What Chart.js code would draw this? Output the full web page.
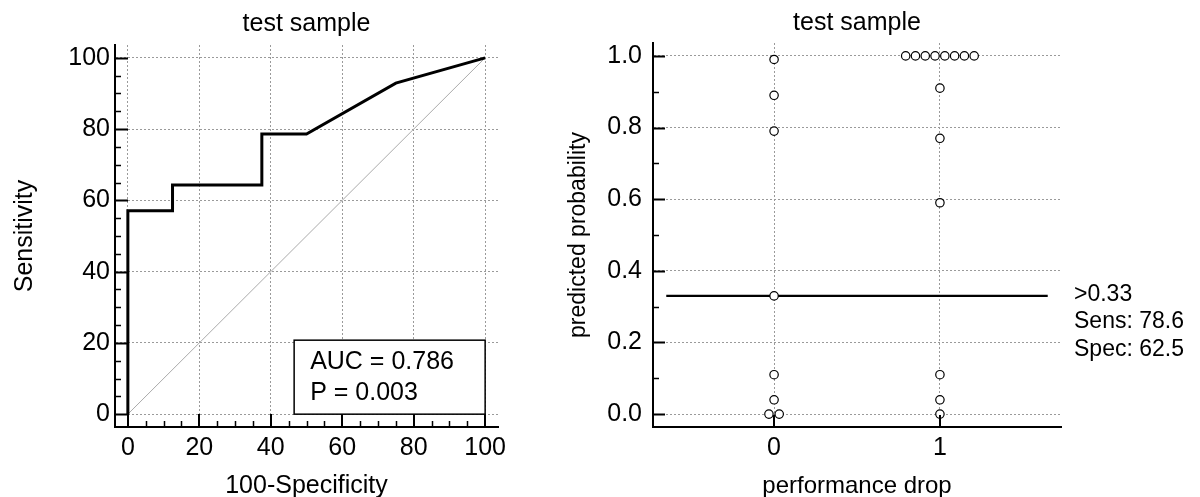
<!DOCTYPE html>
<html>
<head>
<meta charset="utf-8">
<script src="https://cdn.jsdelivr.net/npm/chart.js@4.4.1/dist/chart.umd.min.js"></script>
<style>
  html, body { margin: 0; padding: 0; background: #fff; overflow: hidden; }
  #rocChart { position: absolute; left: 0; top: 0; }
  #dotChart { position: absolute; left: 560px; top: 0; }
</style>
</head>
<body>
<canvas id="rocChart" width="560" height="497"></canvas>
<canvas id="dotChart" width="640" height="497"></canvas>
<script>
// ROC curve (left)
const rocX = [0, 0, 12.5, 12.5, 37.5, 37.5, 50, 75, 100];
const rocY = [0, 57.1, 57.1, 64.3, 64.3, 78.6, 78.6, 92.9, 100];
const diagX = [0, 100];
const diagY = [0, 100];
const rocTicks = [0, 20, 40, 60, 80, 100];
const aucLines = ['AUC = 0.786', 'P = 0.003'];

// dot plot (right)
const groups = [0, 1];
const group0 = [0.99, 0.89, 0.79, 0.33, 0.11, 0.04, 0, 0];
const group1 = [1, 1, 1, 1, 1, 1, 1, 1, 0.91, 0.77, 0.59, 0.11, 0.04, 0];
const probTicks = [0, 0.2, 0.4, 0.6, 0.8, 1.0];
const cutoff = 0.33;
const cutoffLines = ['>0.33', 'Sens: 78.6', 'Spec: 62.5'];

const FONT = '"Liberation Sans", Arial, sans-serif';
Chart.defaults.font.family = FONT;
Chart.defaults.font.size = 25;
Chart.defaults.color = '#000';

const GRID = '#9a9a9a';

// spread tied values sideways, like a dot plot does
function dots(cat, values, step) {
  const out = [];
  const seen = {};
  values.forEach(v => { seen[v] = (seen[v] || 0) + 1; });
  const used = {};
  values.forEach(v => {
    const n = seen[v];
    const k = used[v] || 0;
    used[v] = k + 1;
    out.push({ x: cat + (k - (n - 1) / 2) * step, y: v });
  });
  return out;
}

function pairs(xs, ys) {
  return xs.map((x, i) => ({ x: x, y: ys[i] }));
}

// inward tick marks drawn on the axes
function tickMarks(cfg) {
  return {
    id: 'tickMarks',
    afterDraw(chart) {
      const { ctx, chartArea: a, scales: { x, y } } = chart;
      ctx.save();
      ctx.strokeStyle = '#000';
      ctx.lineWidth = 2;
      ctx.beginPath();
      cfg.yMajor.forEach(v => {
        const p = Math.round(y.getPixelForValue(v)) + 0.5;
        ctx.moveTo(a.left, p); ctx.lineTo(a.left + cfg.major, p);
      });
      cfg.xMajor.forEach(v => {
        const p = Math.round(x.getPixelForValue(v));
        ctx.moveTo(p, a.bottom); ctx.lineTo(p, a.bottom - cfg.major);
      });
      ctx.stroke();
      ctx.lineWidth = 1.5;
      ctx.beginPath();
      cfg.yMinor.forEach(v => {
        const p = Math.round(y.getPixelForValue(v)) + 0.5;
        ctx.moveTo(a.left, p); ctx.lineTo(a.left + cfg.minor, p);
      });
      cfg.xMinor.forEach(v => {
        const p = Math.round(x.getPixelForValue(v)) + 0.5;
        ctx.moveTo(p, a.bottom); ctx.lineTo(p, a.bottom - cfg.minor);
      });
      ctx.stroke();
      ctx.restore();
    }
  };
}

function minorSteps(from, to, step, majors) {
  const out = [];
  for (let v = from; v <= to + 1e-9; v += step) {
    const r = Math.round(v * 1000) / 1000;
    if (!majors.some(m => Math.abs(m - r) < 1e-9)) out.push(r);
  }
  return out;
}

const aucBox = {
  id: 'aucBox',
  afterDraw(chart) {
    const { ctx, scales: { x, y } } = chart;
    const right = x.getPixelForValue(100);
    const bottom = y.getPixelForValue(0);
    const w = 191, h = 74;
    ctx.save();
    ctx.fillStyle = '#fff';
    ctx.fillRect(right - w, bottom - h, w, h);
    ctx.strokeStyle = '#000';
    ctx.lineWidth = 1.5;
    ctx.strokeRect(right - w, bottom - h, w, h);
    ctx.fillStyle = '#000';
    ctx.font = '25px ' + FONT;
    ctx.textBaseline = 'middle';
    ctx.textAlign = 'left';
    aucLines.forEach((t, i) => ctx.fillText(t, right - w + 16, bottom - h + 22 + i * 31));
    ctx.restore();
  }
};

const cutoffNote = {
  id: 'cutoffNote',
  afterDraw(chart) {
    const { ctx, chartArea: a, scales: { y } } = chart;
    const y0 = y.getPixelForValue(cutoff) - 1.5;
    ctx.save();
    ctx.fillStyle = '#000';
    ctx.font = '23px ' + FONT;
    ctx.textBaseline = 'middle';
    ctx.textAlign = 'left';
    cutoffLines.forEach((t, i) => ctx.fillText(t, a.right + 13, y0 + i * 27.4));
    ctx.restore();
  }
};

function scaleBase() {
  return {
    type: 'linear',
    grid: { color: GRID, lineWidth: 1, drawTicks: false },
    border: { display: true, color: '#000', width: 2, dash: [2, 2] },
    ticks: { color: '#000', font: { size: 25 }, maxRotation: 0, autoSkip: false }
  };
}

// left chart
const rxs = scaleBase();
Object.assign(rxs, {
  position: 'bottom', min: -3.6, max: 103.6,
  afterBuildTicks: s => { s.ticks = rocTicks.map(v => ({ value: v })); },
  afterFit: s => { s.height = 70; },
  title: { display: true, text: '100-Specificity', font: { size: 25 }, padding: { top: 0, bottom: -4.6 } }
});
rxs.ticks.padding = 6.4;
const rys = scaleBase();
Object.assign(rys, {
  position: 'left', min: -3.6, max: 103.6,
  afterBuildTicks: s => { s.ticks = rocTicks.map(v => ({ value: v })); },
  afterFit: s => { s.width = 115; },
  title: { display: true, text: 'Sensitivity', font: { size: 25 }, padding: { top: 10.5, bottom: 0 } }
});
rys.ticks.padding = 5;

new Chart(document.getElementById('rocChart').getContext('2d'), {
  type: 'scatter',
  data: {
    datasets: [
      {
        label: 'ROC',
        data: pairs(rocX, rocY),
        showLine: true,
        borderColor: '#000',
        borderWidth: 3,
        pointRadius: 0,
        tension: 0
      },
      {
        label: 'chance',
        data: pairs(diagX, diagY),
        showLine: true,
        borderColor: '#aaaaaa',
        borderWidth: 1,
        pointRadius: 0
      }
    ]
  },
  options: {
    responsive: false,
    animation: false,
    layout: { padding: { left: 0, right: 62, top: 0, bottom: 0 } },
    plugins: {
      legend: { display: false },
      tooltip: { enabled: false },
      title: {
        display: true, text: 'test sample', fullSize: false,
        font: { size: 25, weight: 'normal' }, color: '#000',
        padding: { top: 9.4, bottom: 5.6 }
      }
    },
    scales: { x: rxs, y: rys }
  },
  plugins: [
    tickMarks({
      major: 13, minor: 6,
      yMajor: rocTicks, xMajor: rocTicks,
      yMinor: minorSteps(0, 100, 5, rocTicks), xMinor: minorSteps(0, 100, 5, rocTicks)
    }),
    aucBox
  ]
});

// right chart
const dxs = scaleBase();
Object.assign(dxs, {
  position: 'bottom', min: -0.73, max: 1.73,
  afterBuildTicks: s => { s.ticks = groups.map(v => ({ value: v })); },
  afterFit: s => { s.height = 70; },
  title: { display: true, text: 'performance drop', font: { size: 24 }, padding: { top: 0, bottom: -4 } }
});
dxs.ticks.padding = 6.4;
dxs.ticks.callback = v => String(v);
const dys = scaleBase();
Object.assign(dys, {
  position: 'left', min: -0.036, max: 1.036,
  afterBuildTicks: s => { s.ticks = probTicks.map(v => ({ value: v })); },
  afterFit: s => { s.width = 93; },
  title: { display: true, text: 'predicted probability', font: { size: 23 }, padding: { top: 4.5, bottom: 0 } }
});
dys.ticks.padding = 11;
dys.ticks.callback = v => Number(v).toFixed(1);

new Chart(document.getElementById('dotChart').getContext('2d'), {
  type: 'scatter',
  data: {
    datasets: [
      {
        label: '0',
        data: dots(groups[0], group0, 0.062),
        pointRadius: 4.2,
        borderWidth: 1.2,
        borderColor: '#000',
        backgroundColor: '#fff'
      },
      {
        label: '1',
        data: dots(groups[1], group1, 0.059),
        pointRadius: 4.2,
        borderWidth: 1.2,
        borderColor: '#000',
        backgroundColor: '#fff'
      },
      {
        label: 'cutoff',
        data: [{ x: -0.65, y: cutoff }, { x: 1.65, y: cutoff }],
        showLine: true,
        borderColor: '#000',
        borderWidth: 2.2,
        pointRadius: 0
      }
    ]
  },
  options: {
    responsive: false,
    animation: false,
    layout: { padding: { left: 0, right: 139, top: 0, bottom: 0 } },
    plugins: {
      legend: { display: false },
      tooltip: { enabled: false },
      title: {
        display: true, text: 'test sample', fullSize: false,
        font: { size: 25, weight: 'normal' }, color: '#000',
        padding: { top: 8.5, bottom: 4.5 }
      }
    },
    scales: { x: dxs, y: dys }
  },
  plugins: [
    tickMarks({
      major: 12, minor: 6,
      yMajor: probTicks, xMajor: groups,
      yMinor: minorSteps(0, 1, 0.1, probTicks), xMinor: []
    }),
    cutoffNote
  ]
});
</script>
</body>
</html>
